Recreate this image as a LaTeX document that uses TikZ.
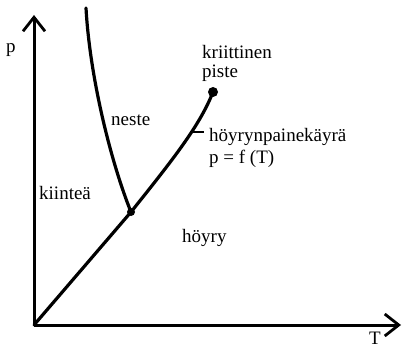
\documentclass[tikz,border=0pt]{standalone}
\usepackage{fontspec}
\setmainfont{Liberation Serif}
\usetikzlibrary{arrows.meta}
\begin{document}
\begin{tikzpicture}[x=1pt,y=-1pt,
  axis/.style={line width=3pt,-{Straight Barb[length=14pt,width=22pt,line width=2.8pt]}},
  curve/.style={line width=3.2pt,line cap=round,line join=round},
  lbl/.style={font=\fontsize{19}{22}\selectfont,inner sep=0pt,anchor=west},
  dot/.style={circle,fill=black,inner sep=0pt}]
\useasboundingbox (0,0) rectangle (403,347);
\coordinate (O) at (34,325);
\coordinate (ptop) at (34,15);
\coordinate (Tend) at (401,325);
\coordinate (ftop) at (86,8);
\node[dot,minimum size=8pt] (tp) at (131,212) {};
\node[dot,minimum size=10pt] (cp) at (213,92) {};
\coordinate (tick) at (193,132);
\coordinate (tickend) at (204,132);
\draw[axis] (O) -- (ptop);
\draw[axis] (O) -- (Tend);
\draw[curve] (ftop) .. controls (90,80) and (112,165) .. (tp.center);
\draw[curve] (O) -- (tp.center);
\draw[curve] (tp.center) .. controls (175,157) and (200,125) .. (cp.center);
\draw[line width=2.4pt] (tick) -- (tickend);
\node[lbl] (p) at (6,50) {p};
\node[lbl] (T) at (369,338) {T};
\node[lbl] (krit) at (202,52) {kriittinen};
\node[lbl] (piste) at (202,73) {piste};
\node[lbl] (hpk) at (209,137) {höyrynpainekäyrä};
\node[lbl] (pf) at (209,159) {p = f (T)};
\node[lbl] (neste) at (111,120) {neste};
\node[lbl] (kiintea) at (39,193) {kiinteä};
\node[lbl] (hoyry) at (182,238) {höyry};
\end{tikzpicture}
\end{document}
